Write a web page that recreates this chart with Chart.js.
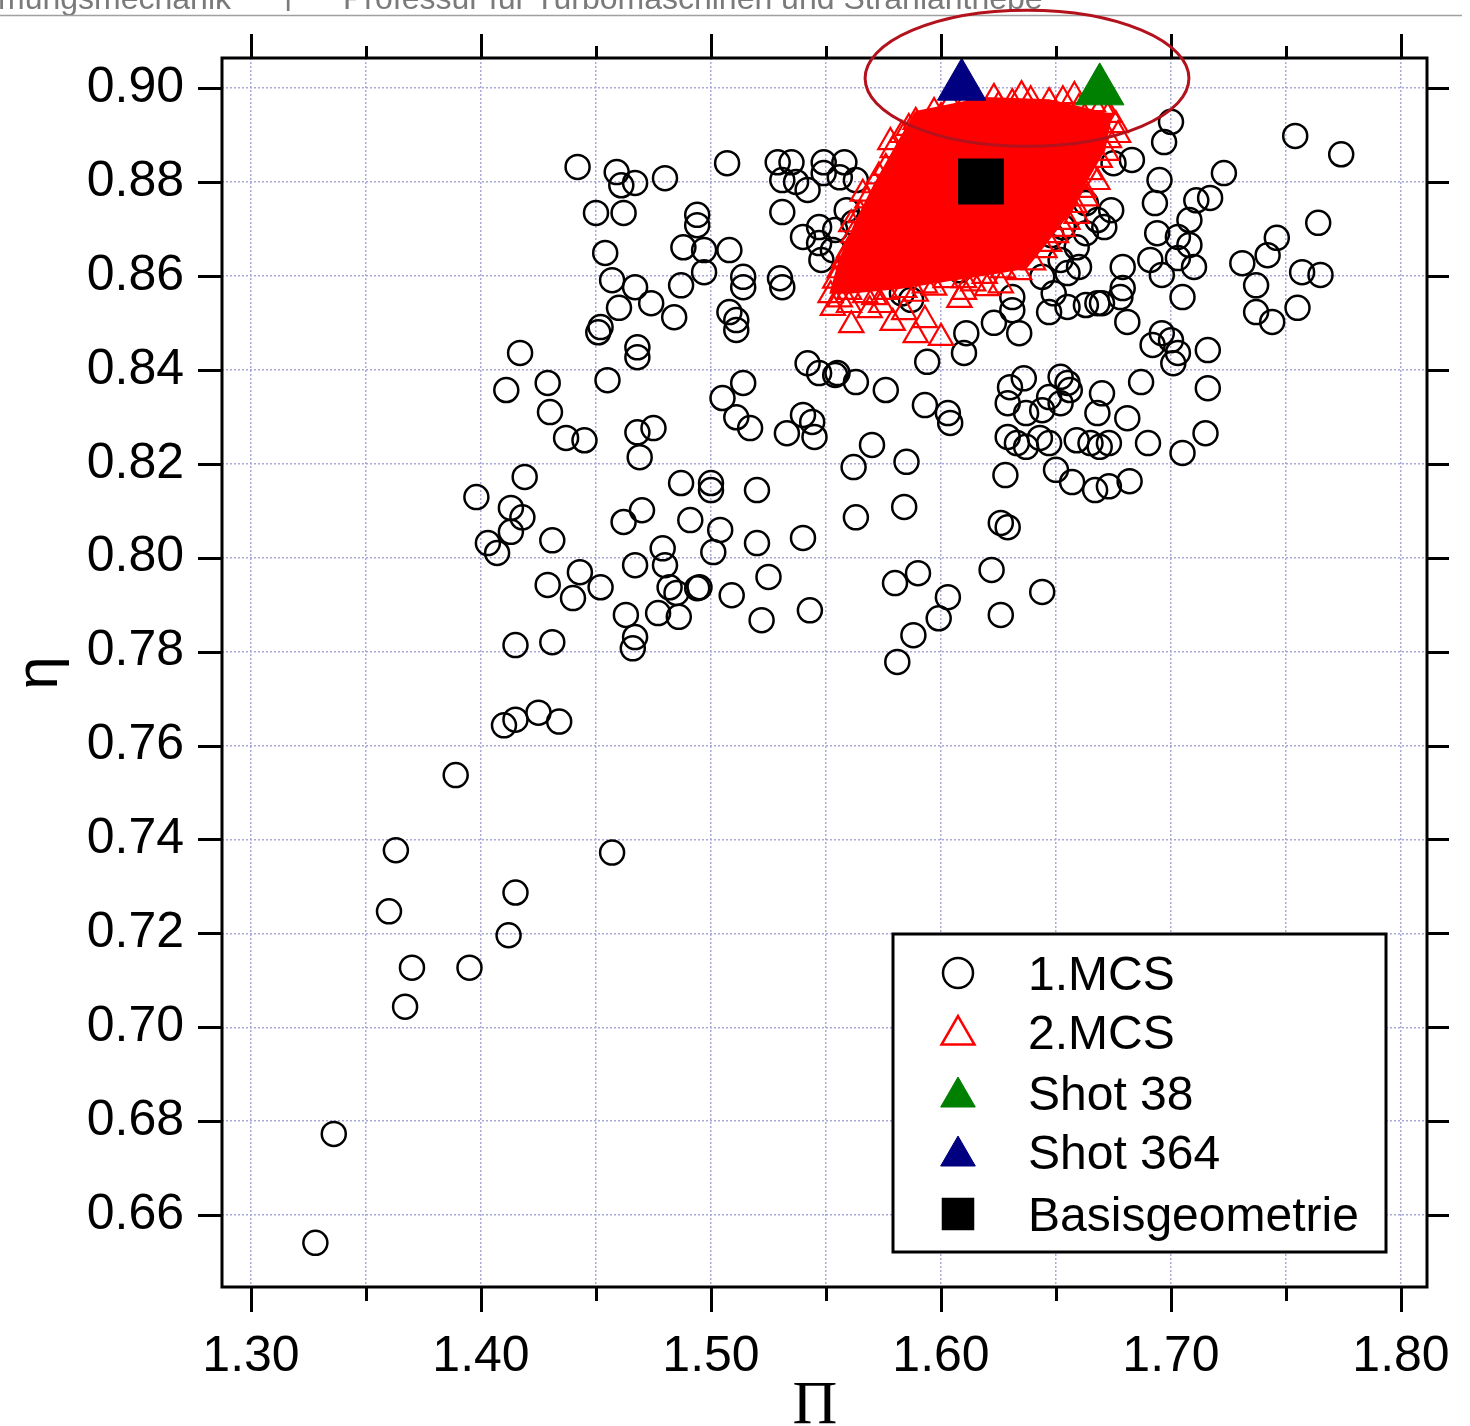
<!DOCTYPE html>
<html>
<head>
<meta charset="utf-8">
<script src="https://cdn.jsdelivr.net/npm/chart.js@4.4.0/dist/chart.umd.min.js"></script>
<style>
html,body{margin:0;padding:0;background:#fff;}
#wrap{width:1470px;height:1426px;position:relative;overflow:hidden;}
</style>
</head>
<body>
<div id="wrap"><canvas id="c" width="1470" height="1426"></canvas></div>
<script>
// ---------- axis ranges and ticks ----------
const piRange = [1.2874, 1.8113];
const etaRange = [0.6447, 0.9064];
const xTickValues = [1.30,1.35,1.40,1.45,1.50,1.55,1.60,1.65,1.70,1.75,1.80];
const xTickLabels = ['1.30','','1.40','','1.50','','1.60','','1.70','','1.80'];
const yTickValues = [0.66,0.68,0.70,0.72,0.74,0.76,0.78,0.80,0.82,0.84,0.86,0.88,0.90];
const yTickLabels = ['0.66','0.68','0.70','0.72','0.74','0.76','0.78','0.80','0.82','0.84','0.86','0.88','0.90'];
const axisTitles = {x:'\u03A0', y:'\u03B7'};
const legendLabels = ['1.MCS','2.MCS','Shot 38','Shot 364','Basisgeometrie'];
const headerLeft = 'mungsmechanik';
const headerRight = 'Professur f\u00FCr Turbomaschinen und Strahlantriebe';

// ---------- 1. MCS (open circles) [Pi, eta] ----------
const mcs1Points = [
[1.754,.8898],[1.774,.8859],[1.700,.8928],[1.697,.8885],[1.675,.8840],[1.683,.8847],[1.695,.8804],[1.693,.8755],[1.723,.8819],[1.717,.8766],
[1.711,.8761],[1.708,.8719],[1.674,.8740],[1.671,.8704],[1.694,.8691],[1.703,.8683],[1.708,.8666],[1.703,.8638],[1.710,.8619],[1.696,.8602],
[1.679,.8619],[1.679,.8574],[1.670,.8542],[1.705,.8555],[1.681,.8502],[1.696,.8478],[1.692,.8453],[1.700,.8463],[1.703,.8436],[1.701,.8414],
[1.716,.8442],[1.687,.8374],[1.716,.8361],[1.670,.8350],[1.681,.8297],[1.715,.8265],[1.690,.8244],[1.673,.8244],[1.705,.8223],[1.764,.8713],
[1.746,.8681],[1.742,.8644],[1.731,.8627],[1.737,.8580],[1.737,.8523],[1.744,.8502],[1.755,.8532],[1.757,.8608],[1.765,.8602],
[1.663,.8755],[1.668,.8719],[1.663,.8691],[1.659,.8661],[1.691,.8634],[1.660,.8619],[1.652,.8634],[1.655,.8606],[1.678,.8555],[1.649,.8563],
[1.655,.8534],[1.663,.8538],[1.668,.8542],[1.631,.8555],[1.634,.8478],[1.623,.8500],[1.611,.8478],[1.610,.8436],[1.594,.8417],[1.587,.8549],
[1.583,.8563],[1.653,.8704],[1.648,.8687],[1.644,.8598],[1.647,.8523],[1.631,.8527],
[1.555,.8393],[1.563,.8374],[1.576,.8357],[1.593,.8325],[1.603,.8308],[1.604,.8287],[1.630,.8363],[1.636,.8382],[1.629,.8329],[1.637,.8308],
[1.647,.8342],[1.652,.8385],[1.655,.8372],[1.656,.8357],[1.652,.8329],[1.644,.8314],[1.668,.8308],[1.629,.8257],[1.633,.8244],[1.637,.8236],
[1.643,.8255],[1.647,.8244],[1.659,.8250],[1.665,.8244],[1.669,.8236],[1.570,.8240],[1.585,.8204],[1.562,.8193],[1.628,.8176],[1.650,.8187],
[1.657,.8161],[1.667,.8144],[1.673,.8152],[1.682,.8163],
[1.511,.8485],[1.542,.8414],[1.547,.8393],[1.554,.8389],[1.514,.8372],[1.505,.8340],[1.511,.8299],[1.517,.8276],[1.533,.8265],[1.540,.8304],
[1.544,.8289],[1.545,.8257],[1.500,.8159],[1.500,.8144],[1.520,.8144],[1.563,.8086],[1.584,.8108],[1.626,.8074],[1.629,.8065],[1.504,.8059],
[1.501,.8012],[1.520,.8031],[1.540,.8042],[1.495,.7937],[1.509,.7920],[1.525,.7959],[1.522,.7867],[1.543,.7888],[1.580,.7946],[1.590,.7967],
[1.603,.7916],[1.599,.7871],[1.588,.7835],[1.581,.7778],[1.622,.7974],[1.626,.7878],[1.644,.7927],
[1.417,.8436],[1.451,.8480],[1.468,.8448],[1.468,.8427],[1.411,.8357],[1.429,.8372],[1.430,.8310],[1.437,.8255],[1.445,.8250],[1.455,.8378],
[1.468,.8267],[1.475,.8276],[1.469,.8214],[1.419,.8172],[1.398,.8129],[1.413,.8106],[1.418,.8086],[1.413,.8055],[1.403,.8031],[1.407,.8010],
[1.431,.8037],[1.462,.8076],[1.470,.8101],[1.487,.8159],[1.491,.8080],[1.429,.7942],[1.443,.7969],[1.440,.7914],[1.452,.7937],[1.467,.7984],
[1.479,.8020],[1.480,.7984],[1.482,.7937],[1.485,.7925],[1.494,.7935],[1.463,.7878],[1.477,.7882],[1.486,.7874],[1.467,.7831],[1.466,.7807],
[1.415,.7814],[1.431,.7820],
[1.442,.8832],[1.459,.8821],[1.461,.8793],[1.467,.8798],[1.480,.8808],[1.507,.8840],[1.529,.8842],[1.535,.8842],[1.531,.8804],[1.537,.8800],
[1.542,.8783],[1.549,.8842],[1.549,.8819],[1.450,.8734],[1.462,.8734],[1.531,.8736],[1.494,.8730],[1.494,.8708],[1.488,.8661],[1.497,.8655],
[1.508,.8655],[1.497,.8608],[1.454,.8649],[1.457,.8591],[1.467,.8576],[1.460,.8532],[1.474,.8542],[1.484,.8512],[1.452,.8491],[1.487,.8580],
[1.514,.8598],[1.514,.8576],[1.508,.8523],[1.511,.8506],[1.530,.8595],[1.531,.8576],[1.540,.8683],[1.547,.8704],[1.547,.8670],[1.548,.8634],
[1.558,.8842],[1.556,.8810],[1.563,.8804],[1.559,.8740],[1.554,.8698],[1.562,.8713],[1.553,.8655],[1.569,.8634],[1.582,.8612],[1.595,.8655],
[1.608,.8612],[1.621,.8655],[1.574,.8719],
[1.410,.7643],[1.415,.7655],[1.425,.7670],[1.434,.7651],[1.389,.7537],[1.363,.7377],[1.457,.7372],[1.360,.7247],[1.415,.7287],[1.412,.7196],
[1.370,.7127],[1.395,.7127],[1.367,.7044],[1.336,.6773],[1.328,.6541]
];

// ---------- 2. MCS (open red triangles) [Pi, eta] ----------
const mcs2Points = [
[1.597,.8949],[1.604,.8964],[1.615,.8974],[1.623,.8979],[1.631,.8968],[1.639,.8974],[1.647,.8970],[1.653,.8974],[1.660,.8957],[1.666,.8966],
[1.673,.8943],[1.676,.8921],[1.610,.8960],[1.635,.8985],[1.658,.8983],[1.670,.8960],[1.600,.8938],[1.625,.8962],
[1.673,.8889],[1.669,.8847],[1.665,.8821],[1.662,.8783],[1.658,.8751],[1.655,.8715],[1.650,.8687],[1.645,.8655],[1.640,.8629],
[1.677,.8900],[1.672,.8862],[1.668,.8800],[1.663,.8765],[1.659,.8728],[1.653,.8700],[1.647,.8668],
[1.634,.8608],[1.627,.8612],[1.619,.8600],[1.610,.8591],[1.602,.8591],[1.593,.8580],[1.584,.8570],[1.576,.8566],[1.567,.8559],[1.560,.8566],
[1.552,.8559],[1.614,.8584],[1.597,.8575],[1.589,.8562],[1.571,.8555],[1.556,.8550],
[1.556,.8612],[1.560,.8655],[1.562,.8687],[1.565,.8730],[1.568,.8761],[1.571,.8793],[1.576,.8830],[1.579,.8868],[1.583,.8900],[1.589,.8928],
[1.554,.8590],[1.558,.8635],[1.561,.8710],[1.566,.8775],[1.573,.8812],[1.578,.8885],[1.586,.8915],
[1.561,.8495],[1.579,.8500],[1.589,.8474],[1.600,.8468],[1.569,.8527],[1.553,.8532],[1.584,.8523],[1.610,.8566],[1.620,.8574],[1.560,.8538],
[1.593,.8506],[1.574,.8538],[1.608,.8549],[1.626,.8580],
[1.591,.8889],[1.604,.8911],[1.617,.8921],[1.630,.8915],[1.643,.8921],[1.656,.8911],[1.665,.8900],[1.584,.8825],[1.597,.8847],[1.610,.8857],
[1.623,.8868],[1.637,.8868],[1.650,.8857],[1.658,.8847],[1.580,.8761],[1.593,.8783],[1.606,.8793],[1.619,.8804],[1.632,.8808],[1.645,.8800],
[1.652,.8783],[1.574,.8698],[1.587,.8719],[1.600,.8730],[1.613,.8740],[1.626,.8736],[1.639,.8740],[1.647,.8730],[1.569,.8634],[1.582,.8655],
[1.595,.8666],[1.608,.8676],[1.621,.8681],[1.634,.8676],[1.574,.8602],[1.589,.8617],[1.604,.8629],[1.619,.8638],[1.630,.8644]
];
// outline of the densely covered part of the 2. MCS cloud [Pi, eta]
const mcs2Envelope = [
[1.589,.8949],[1.619,.8979],[1.647,.8974],[1.674,.8943],[1.671,.8868],[1.662,.8793],[1.655,.8730],[1.645,.8666],[1.637,.8617],[1.621,.8604],
[1.604,.8591],[1.582,.8574],[1.560,.8564],[1.552,.8564],[1.556,.8634],[1.563,.8715],[1.571,.8793],[1.580,.8872],[1.589,.8949]
];

// ---------- single designs ----------
const shot38 = [1.669, 0.8994];
const shot364 = [1.609, 0.9004];
const basisgeometrie = [1.6174, 0.8801];
// highlighted region (ellipse): centre and half axes in data units
const markedRegion = {pi:1.6374, eta:0.9021, halfPi:0.0704, halfEta:0.01448};

const FONT = "'Liberation Sans', Arial, sans-serif";
const toXY = arr => arr.map(p => ({x:p[0], y:p[1]}));

const decor = {
  id:'decor',
  beforeDraw(chart){
    const ctx = chart.ctx;
    ctx.save();
    ctx.fillStyle = '#fff';
    ctx.fillRect(0,0,chart.width,chart.height);
    ctx.fillStyle = '#7a7a7a';
    ctx.font = "32px " + FONT;
    ctx.textBaseline = 'alphabetic';
    ctx.textAlign = 'left';
    ctx.fillText(headerLeft, -2, 9);
    ctx.fillText('|', 284, 4);
    ctx.fillText(headerRight, 343, 9);
    ctx.strokeStyle = '#a0a0a0';
    ctx.lineWidth = 1.5;
    ctx.beginPath(); ctx.moveTo(0,15.5); ctx.lineTo(1462,15.5); ctx.stroke();
    ctx.restore();
  },
  afterDatasetsDraw(chart){
    const ctx = chart.ctx;
    const {left,right,top,bottom} = chart.chartArea;
    const xs = chart.scales.x, ys = chart.scales.y;
    ctx.save();
    ctx.strokeStyle = '#000';
    ctx.lineWidth = 3;
    ctx.lineCap = 'butt';
    ctx.beginPath();
    xTickValues.forEach((v,i) => {
      const px = Math.round(xs.getPixelForValue(v)) + 0.5;
      const major = xTickLabels[i] !== '';
      ctx.moveTo(px, bottom); ctx.lineTo(px, bottom + (major ? 25 : 14));
      ctx.moveTo(px, top); ctx.lineTo(px, top - (major ? 24 : 12));
    });
    yTickValues.forEach(v => {
      const py = Math.round(ys.getPixelForValue(v)) + 0.5;
      ctx.moveTo(left - 24, py); ctx.lineTo(left, py);
      ctx.moveTo(right, py); ctx.lineTo(right + 22, py);
    });
    ctx.stroke();
    ctx.strokeRect(left, top, right-left, bottom-top);
    // highlighted region
    const cx = xs.getPixelForValue(markedRegion.pi);
    const cy = ys.getPixelForValue(markedRegion.eta);
    const rx = Math.abs(xs.getPixelForValue(markedRegion.pi + markedRegion.halfPi) - cx);
    const ry = Math.abs(ys.getPixelForValue(markedRegion.eta + markedRegion.halfEta) - cy);
    ctx.strokeStyle = '#b3121c';
    ctx.lineWidth = 3;
    ctx.beginPath();
    ctx.ellipse(cx, cy, rx, ry, 0, 0, Math.PI*2);
    ctx.stroke();
    ctx.restore();
  },
  afterDraw(chart){
    const ctx = chart.ctx;
    ctx.save();
    // axis titles
    ctx.fillStyle = '#000';
    ctx.font = "62px 'Liberation Serif', 'DejaVu Serif', serif";
    ctx.textAlign = 'center';
    ctx.textBaseline = 'alphabetic';
    ctx.fillText(axisTitles.x, 815, 1423);
    ctx.save();
    ctx.translate(57, 673);
    ctx.rotate(-Math.PI/2);
    ctx.font = "60px " + FONT;
    ctx.fillText(axisTitles.y, 0, 0);
    ctx.restore();
    // legend
    const lx = 893, ly = 934, lw = 493, lh = 318;
    ctx.fillStyle = '#fff';
    ctx.fillRect(lx, ly, lw, lh);
    ctx.strokeStyle = '#000';
    ctx.lineWidth = 3;
    ctx.strokeRect(lx, ly, lw, lh);
    const rows = [973, 1032, 1093, 1152, 1214];
    const styles = [
      {pointStyle:'circle', radius:15, borderWidth:2.5, fill:'rgba(0,0,0,0)', stroke:'#000'},
      {pointStyle:'triangle', radius:19, borderWidth:2.5, fill:'rgba(0,0,0,0)', stroke:'#ff0000'},
      {pointStyle:'triangle', radius:20, borderWidth:1, fill:'#008000', stroke:'#008000'},
      {pointStyle:'triangle', radius:20, borderWidth:1, fill:'#000080', stroke:'#000080'},
      {pointStyle:'rect', radius:23, borderWidth:0, fill:'#000', stroke:'#000'}
    ];
    const mOff = [0, 3, 4, 4, 0];
    styles.forEach((s,i) => {
      ctx.fillStyle = s.fill;
      ctx.strokeStyle = s.stroke;
      ctx.lineWidth = s.borderWidth;
      Chart.helpers.drawPoint(ctx, {pointStyle:s.pointStyle, radius:s.radius, rotation:0, borderWidth:s.borderWidth}, 958, rows[i] + mOff[i]);
    });
    ctx.fillStyle = '#000';
    ctx.font = "48px " + FONT;
    ctx.textAlign = 'left';
    ctx.textBaseline = 'alphabetic';
    legendLabels.forEach((t,i) => ctx.fillText(t, 1028, rows[i] + 17));
    ctx.restore();
  }
};

const gridOpts = {color:'#a9a9d9', lineWidth:1.5, drawTicks:false};
const tickFont = {family: FONT, size: 50};

new Chart(document.getElementById('c'), {
  type: 'scatter',
  data: {
    datasets: [
      {label:'1.MCS', data: toXY(mcs1Points), pointStyle:'circle', pointRadius:12, pointBorderWidth:2.5,
       pointBorderColor:'#000', pointBackgroundColor:'rgba(0,0,0,0)', borderColor:'#000', order:6},
      {label:'2.MCS dense area', data: toXY(mcs2Envelope), showLine:true, fill:'shape', tension:0,
       backgroundColor:'#ff0000', borderColor:'#ff0000', borderWidth:2, pointRadius:0, order:5},
      {label:'2.MCS', data: toXY(mcs2Points), pointStyle:'triangle', pointRadius:14, pointBorderWidth:2.2,
       pointBorderColor:'#ff0000', pointBackgroundColor:'rgba(0,0,0,0)', borderColor:'#ff0000', order:4},
      {label:'Basisgeometrie', data: toXY([basisgeometrie]), pointStyle:'rect', pointRadius:32.5, pointBorderWidth:0,
       pointBackgroundColor:'#000', pointBorderColor:'#000', order:3, clip:false},
      {label:'Shot 38', data: toXY([shot38]), pointStyle:'triangle', pointRadius:28, pointBorderWidth:1,
       pointBackgroundColor:'#008000', pointBorderColor:'#008000', order:2, clip:false},
      {label:'Shot 364', data: toXY([shot364]), pointStyle:'triangle', pointRadius:28, pointBorderWidth:1,
       pointBackgroundColor:'#000080', pointBorderColor:'#000080', order:1, clip:false}
    ]
  },
  options: {
    responsive:false,
    devicePixelRatio:1,
    animation:false,
    events:[],
    layout:{padding:{left:0, right:43, top:58, bottom:0}},
    plugins:{legend:{display:false}, tooltip:{enabled:false}, title:{display:false}},
    scales:{
      x:{
        type:'linear', position:'bottom', min:piRange[0], max:piRange[1],
        afterBuildTicks: s => { s.ticks = xTickValues.map(v => ({value:v})); },
        afterFit: s => { s.height = 139; s.paddingLeft = 0; s.paddingRight = 0; },
        ticks:{autoSkip:false, maxRotation:0, minRotation:0, padding:40, color:'#000', font:tickFont,
               callback:(v,i) => xTickLabels[i]},
        grid: gridOpts,
        border:{display:false, dash:[2,2]}
      },
      y:{
        type:'linear', position:'left', min:etaRange[0], max:etaRange[1],
        afterBuildTicks: s => { s.ticks = yTickValues.map(v => ({value:v})); },
        afterFit: s => { s.width = 222; s.paddingTop = 0; s.paddingBottom = 0; },
        ticks:{autoSkip:false, padding:38, color:'#000', font:tickFont,
               callback:(v,i) => yTickLabels[i]},
        grid: gridOpts,
        border:{display:false, dash:[2,2]}
      }
    }
  },
  plugins:[decor]
});
</script>
</body>
</html>
